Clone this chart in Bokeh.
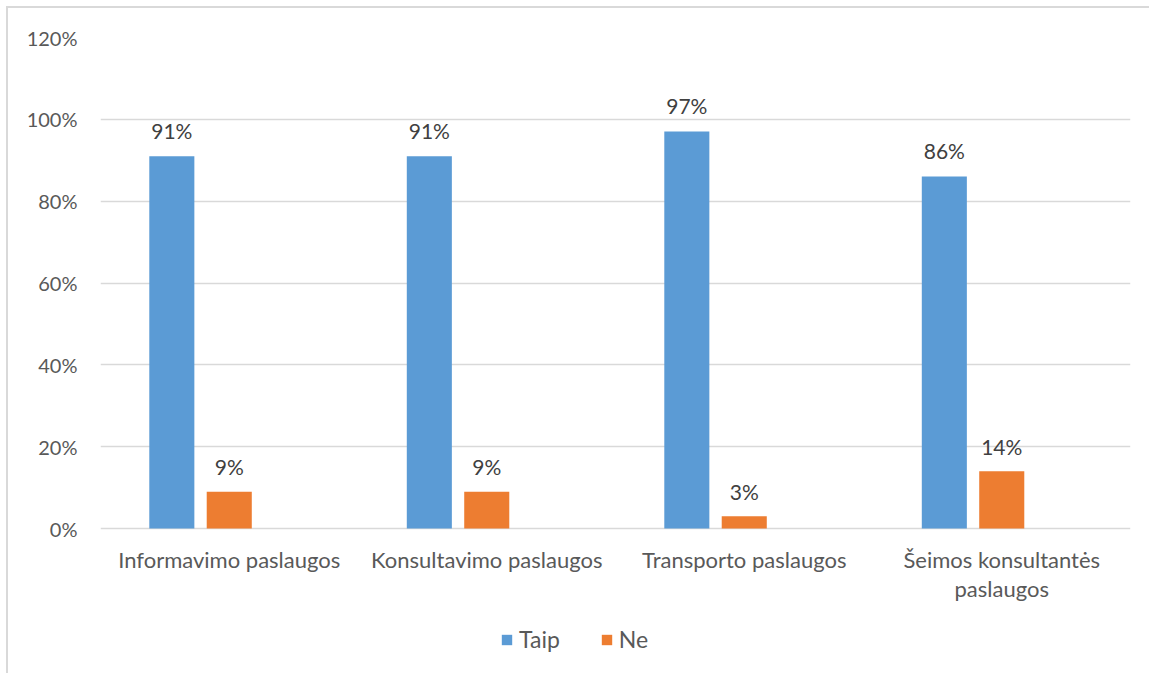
from bokeh.plotting import figure
from bokeh.models import (ColumnDataSource, FactorRange, Range1d, Legend, LegendItem, FixedTicker)
from bokeh.transform import dodge
from bokeh.core.properties import value
from bokeh.embed import file_html
from bokeh.resources import INLINE

categories = ["Informavimo paslaugos", "Konsultavimo paslaugos", "Transporto paslaugos", "Šeimos konsultantės paslaugos"]
taip = [91, 91, 97, 86]
ne = [9, 9, 3, 14]
y_ticks = [0, 20, 40, 60, 80, 100, 120]


def split_label(s):
    if len(s) > 24:
        a, b = s.rsplit(" ", 1)
        return a, b
    return s, ""


src = ColumnDataSource(dict(
    cat=categories, taip=taip, ne=ne,
    taip_lbl=[f"{v}%" for v in taip], ne_lbl=[f"{v}%" for v in ne],
    line1=[split_label(c)[0] for c in categories],
    line2=[split_label(c)[1] for c in categories],
    zero=[0] * len(categories),
))

FONT = "Lato"
GRAY = "#595959"

# frame: 120% at page y 37, 0% at page y 528; figure content spans page y 8..675
px_per_unit = (528 - 37) / 120.0
y_bottom = -(675 - 528) / px_per_unit

p = figure(x_range=FactorRange(*categories), y_range=Range1d(y_bottom, 120),
           width=1143, height=667, output_backend="svg", toolbar_location=None,
           min_border_left=92, min_border_right=21, min_border_top=29, min_border_bottom=0)
p.styles = {"margin-left": "6px", "margin-top": "6px",
            "border-left": "2px solid #d9d9d9", "border-top": "2px solid #d9d9d9"}
p.outline_line_color = None
p.background_fill_color = "white"

bw = 0.175
off = 0.223
r1 = p.vbar(x=dodge("cat", -off, range=p.x_range), top="taip", width=bw, source=src,
            fill_color="#5B9BD5", line_color=None)
r2 = p.vbar(x=dodge("cat", 0.0, range=p.x_range), top="ne", width=bw, source=src,
            fill_color="#ED7D31", line_color=None)

p.text(x=dodge("cat", -off, range=p.x_range), y="taip", text="taip_lbl", source=src,
       text_align="center", text_baseline="middle", y_offset=-26,
       text_font=value(FONT), text_font_size="21px", text_color="#404040")
p.text(x=dodge("cat", 0.0, range=p.x_range), y="ne", text="ne_lbl", source=src,
       text_align="center", text_baseline="middle", y_offset=-25,
       text_font=value(FONT), text_font_size="21px", text_color="#404040")

# category labels below the baseline
p.text(x="cat", y="zero", text="line1", source=src, y_offset=31,
       text_align="center", text_baseline="middle",
       text_font=value(FONT), text_font_size="22px", text_color=GRAY)
p.text(x="cat", y="zero", text="line2", source=src, y_offset=60,
       text_align="center", text_baseline="middle",
       text_font=value(FONT), text_font_size="22px", text_color=GRAY)

p.xgrid.grid_line_color = None
p.ygrid.grid_line_color = "#d9d9d9"
p.ygrid.grid_line_width = 1.5
p.yaxis.ticker = FixedTicker(ticks=y_ticks)
p.yaxis.major_label_overrides = {t: f"{t}%" for t in y_ticks}
p.yaxis.axis_line_color = None
p.yaxis.major_tick_line_color = None
p.yaxis.major_tick_out = 0
p.yaxis.minor_tick_line_color = None
p.yaxis.major_label_text_font = FONT
p.yaxis.major_label_text_font_size = "20px"
p.yaxis.major_label_text_color = GRAY
p.yaxis.major_label_standoff = 23
p.xaxis.visible = False

legend = Legend(items=[LegendItem(label="Taip", renderers=[r1]), LegendItem(label="Ne", renderers=[r2])],
                orientation="horizontal", location=(400, 22))
legend.label_text_font = FONT
legend.label_text_font_size = "23px"
legend.label_text_color = GRAY
legend.glyph_width = 13
legend.glyph_height = 13
legend.spacing = 40
legend.label_standoff = 6
legend.border_line_color = None
legend.background_fill_alpha = 0
legend.padding = 0
legend.margin = 0
p.add_layout(legend)

open("out.html", "w").write(file_html(p, INLINE))
